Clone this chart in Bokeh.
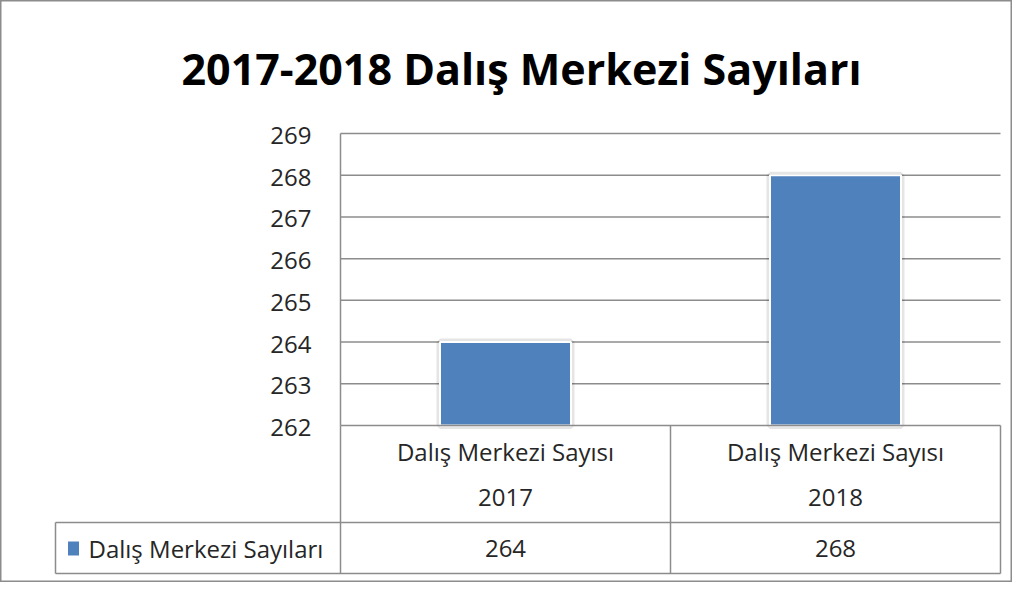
from bokeh.plotting import figure
from bokeh.models import Range1d
from bokeh.core.properties import value
from bokeh.embed import file_html
from bokeh.resources import INLINE

# ---------------- data ----------------
title_text = "2017-2018 Dalış Merkezi Sayıları"
category_labels = ["Dalış Merkezi Sayısı", "Dalış Merkezi Sayısı"]
years = ["2017", "2018"]
series_name = "Dalış Merkezi Sayıları"
values = [264, 268]
y_ticks = [262, 263, 264, 265, 266, 267, 268, 269]

# ---------------- layout (picture pixels -> data units) ----------------
W, H = 1012, 582
X0, UX = 340, 330.0     # x where categories start, px per category
Y0, UY = 425, 41.71     # y of axis floor, px per value unit
YMIN = y_ticks[0]


def ux(px):
    return (px - X0) / UX


def vy(py):
    return YMIN + (Y0 - py) / UY


BAR_COLOR = "#4F81BD"
GRID_COLOR = "#8C8C8C"
TEXT_COLOR = "#262626"
FONT = value("Open Sans")
TXT = "24px"

p = figure(width=W, height=H,
           x_range=Range1d(ux(0), ux(W)),
           y_range=Range1d(vy(H), vy(0)),
           output_backend="svg", toolbar_location=None,
           min_border=0, x_axis_location=None, y_axis_location=None)
p.grid.visible = False
p.outline_line_color = "#8C8C8C"
p.outline_line_width = 2
p.background_fill_color = "white"
p.border_fill_color = "white"

n = len(values)
xs = [i + 0.5 for i in range(n)]

# title
p.text(x=[ux(521)], y=[vy(68)], text=[title_text], text_font=FONT,
       text_font_style="bold", text_font_size="43px", text_color="black",
       text_align="center", text_baseline="middle")

# horizontal gridlines
grid_vals = y_ticks[1:]
p.segment(x0=[0] * len(grid_vals), y0=grid_vals, x1=[n] * len(grid_vals),
          y1=grid_vals, line_color=GRID_COLOR, line_width=1.5)

# y tick labels
p.text(x=[ux(311)] * len(y_ticks), y=y_ticks, text=[str(t) for t in y_ticks],
       text_font=FONT, text_font_size=TXT, text_color=TEXT_COLOR,
       text_align="right", text_baseline="middle", y_offset=2)

# bars: soft shadow + white edge
p.vbar(x=xs, width=131 / UX, bottom=YMIN, top=values, fill_color=None,
       line_color="black", line_alpha=0.10, line_width=7)
p.vbar(x=xs, width=131 / UX, bottom=YMIN, top=values, fill_color=BAR_COLOR,
       line_color="white", line_width=2)

# data table lines
row1_top = YMIN
row1_bot = vy(522)
row2_bot = vy(573)
left_cell = ux(55)
hx0 = [0, left_cell, left_cell]
hy = [row1_top, row1_bot, row2_bot]
hx1 = [n, n, n]
p.segment(x0=hx0, y0=hy, x1=hx1, y1=hy, line_color=GRID_COLOR, line_width=1.5)
vx = list(range(n + 1))
p.segment(x0=vx, y0=[row2_bot] * len(vx), x1=vx, y1=[row1_top] * len(vx),
          line_color=GRID_COLOR, line_width=1.5)
# value axis line up to top of plot area
p.segment(x0=[0], y0=[row1_top], x1=[0], y1=[y_ticks[-1]],
          line_color=GRID_COLOR, line_width=1.5)
p.segment(x0=[left_cell], y0=[row1_bot], x1=[left_cell], y1=[row2_bot],
          line_color=GRID_COLOR, line_width=1.5)

# table texts
p.text(x=xs, y=[vy(451)] * n, text=category_labels, text_font=FONT,
       text_font_size=TXT, text_color=TEXT_COLOR, text_align="center",
       text_baseline="middle")
p.text(x=xs, y=[vy(497)] * n, text=years, text_font=FONT,
       text_font_size=TXT, text_color=TEXT_COLOR, text_align="center",
       text_baseline="middle")
p.text(x=xs, y=[vy(548)] * n, text=[str(v) for v in values], text_font=FONT,
       text_font_size=TXT, text_color=TEXT_COLOR, text_align="center",
       text_baseline="middle")

# legend key in table
p.rect(x=[ux(73)], y=[vy(548)], width=11, height=14, width_units="screen",
       height_units="screen", fill_color=BAR_COLOR, line_color=None)
p.text(x=[ux(88)], y=[vy(548)], text=[series_name], text_font=FONT,
       text_font_size=TXT, text_color=TEXT_COLOR, text_align="left",
       text_baseline="middle")

open("out.html", "w").write(file_html(p, INLINE))
